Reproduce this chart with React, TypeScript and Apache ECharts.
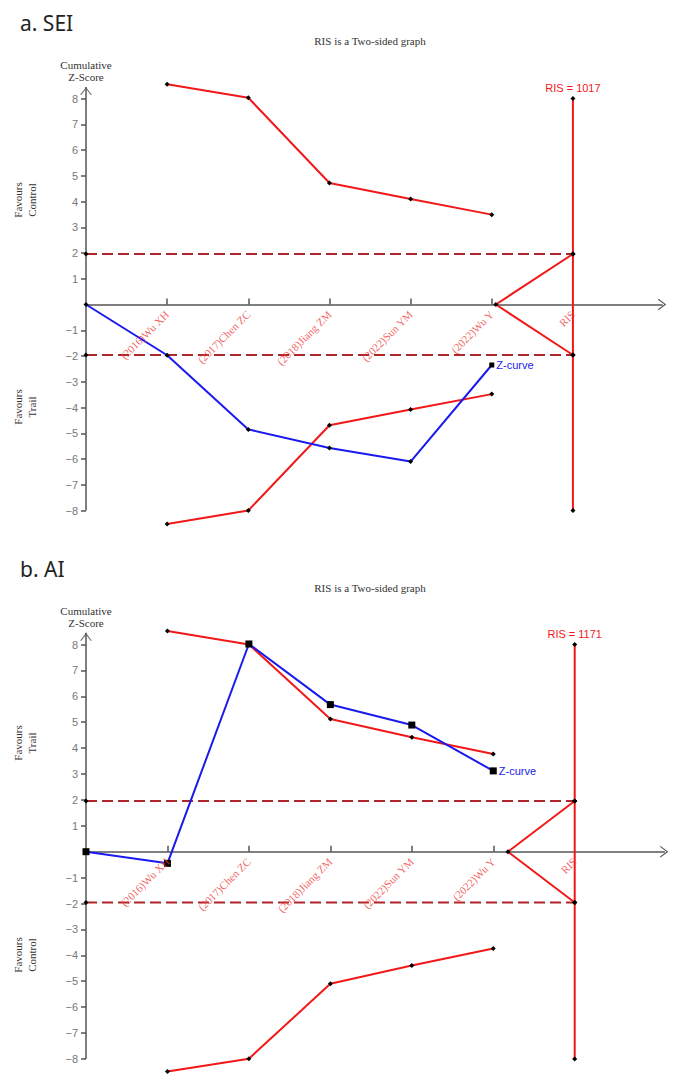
import React, { useEffect, useRef } from "react";
import * as echarts from "echarts";

// ---------- data ----------
const studies = ["(2016)Wu XH", "(2017)Chen ZC", "(2018)Jiang ZM", "(2022)Sun YM", "(2022)Wu Y"];
const risCategory = "RIS";
const studyPositions = [1, 2, 3, 4, 5];
const risPosition = 6;
const conventionalBoundary = 1.96;
const risBoundaryTop = 8;
const risBoundaryBottom = -8;
const yTickValues = [-8, -7, -6, -5, -4, -3, -2, -1, 1, 2, 3, 4, 5, 6, 7, 8];

// a. SEI
const seiUpper = [8.55, 8.03, 4.72, 4.1, 3.49];
const seiLower = [-8.52, -8.0, -4.69, -4.08, -3.48];
const seiZ = [0, -1.97, -4.85, -5.57, -6.1, -2.35];
const seiRIS = 1017;
const seiWedgeStart = 5.05;

// b. AI
const aiUpper = [8.52, 8.0, 5.12, 4.42, 3.77];
const aiLower = [-8.49, -7.99, -5.1, -4.39, -3.74];
const aiZ = [0, -0.45, 8.02, 5.68, 4.89, 3.12];
const aiRIS = 1171;
const aiWedgeStart = 5.18;

// ---------- styles ----------
const SERIF = '"Liberation Serif", "Times New Roman", serif';
const SANS = '"Liberation Sans", Arial, sans-serif';
const RED = "#f21818";
const BLUE = "#1a1aee";
const DASH_RED = "#b0262a";
const AXIS = "#555555";
const CHEVRON = "path://M0,8 L6,0 L12,8 L10.6,8 L6,1.8 L1.4,8 Z";

type Panel = {
  upper: number[];
  lower: number[];
  z: number[];
  ris: number;
  wedge: number;
  zSymbol: string;
  zSymbolSize: number;
  zEndSymbol: string;
  zEndSize: number;
};

function panelSeries(i: number, p: Panel): any[] {
  const common = { xAxisIndex: i, yAxisIndex: i, silent: true };
  const dot = { symbol: "diamond", symbolSize: 5, itemStyle: { color: "#000" } };
  const catLabels = [...studies, risCategory];
  const catPositions = [...studyPositions, risPosition];
  return [
    {
      ...common,
      ...dot,
      type: "line",
      z: 2,
      data: [[0, conventionalBoundary], [risPosition, conventionalBoundary]],
      lineStyle: { color: DASH_RED, width: 2, type: [11, 5] },
    },
    {
      ...common,
      ...dot,
      type: "line",
      z: 2,
      data: [[0, -conventionalBoundary], [risPosition, -conventionalBoundary]],
      lineStyle: { color: DASH_RED, width: 2, type: [11, 5] },
    },
    {
      ...common,
      ...dot,
      type: "line",
      z: 3,
      data: studyPositions.map((x, k) => [x, p.upper[k]]),
      lineStyle: { color: RED, width: 2 },
    },
    {
      ...common,
      ...dot,
      type: "line",
      z: 3,
      data: studyPositions.map((x, k) => [x, p.lower[k]]),
      lineStyle: { color: RED, width: 2 },
    },
    {
      ...common,
      ...dot,
      type: "line",
      z: 3,
      data: [
        {
          value: [risPosition, risBoundaryTop],
          label: {
            show: true,
            position: "top",
            distance: 3,
            formatter: `RIS = ${p.ris}`,
            color: RED,
            fontSize: 11,
            fontFamily: SANS,
          },
        },
        [risPosition, conventionalBoundary],
        [risPosition, -conventionalBoundary],
        [risPosition, risBoundaryBottom],
      ],
      lineStyle: { color: RED, width: 2 },
    },
    {
      ...common,
      ...dot,
      type: "line",
      z: 3,
      data: [[risPosition, conventionalBoundary], [p.wedge, 0], [risPosition, -conventionalBoundary]],
      lineStyle: { color: RED, width: 2 },
    },
    {
      ...common,
      type: "line",
      z: 4,
      symbol: p.zSymbol,
      symbolSize: p.zSymbolSize,
      itemStyle: { color: "#000" },
      lineStyle: { color: BLUE, width: 2 },
      data: p.z.map((v, k) =>
        k === p.z.length - 1
          ? {
              value: [k, v],
              symbol: p.zEndSymbol,
              symbolSize: p.zEndSize,
              label: {
                show: true,
                position: "right",
                distance: 2,
                formatter: "Z-curve",
                color: BLUE,
                fontSize: 11,
                fontFamily: SANS,
              },
            }
          : [k, v]
      ),
    },
    // y axis line with open arrow head
    {
      ...common,
      type: "line",
      z: 1,
      symbol: "none",
      data: [[0, risBoundaryBottom], [0, 8.45]],
      lineStyle: { color: AXIS, width: 1.5 },
    },
    {
      ...common,
      type: "scatter",
      z: 1,
      symbol: CHEVRON,
      symbolSize: [12, 8],
      symbolOffset: [0, 4],
      itemStyle: { color: AXIS },
      data: [[0, 8.45]],
    },
    // category labels sitting on the zero axis
    {
      ...common,
      type: "scatter",
      z: 5,
      symbol: "circle",
      symbolSize: 0,
      itemStyle: { color: "transparent" },
      data: catPositions.map((x, k) => ({ value: [x, 0], name: catLabels[k] })),
      label: {
        show: true,
        position: "bottom",
        distance: 8,
        rotate: 45,
        align: "right",
        verticalAlign: "middle",
        formatter: (d: any) => d.name,
        color: "#ee3a3a",
        fontSize: 11,
        fontFamily: SERIF,
      },
    },
  ];
}

function xAxisFor(i: number): any {
  return {
    type: "value",
    gridIndex: i,
    min: 0,
    max: 7.1,
    splitLine: { show: false },
    axisLine: {
      show: true,
      onZero: true,
      symbol: ["none", CHEVRON],
      symbolSize: [12, 8],
      lineStyle: { color: AXIS, width: 1.5 },
    },
    axisTick: {
      show: true,
      inside: true,
      length: 6,
      customValues: studyPositions,
      lineStyle: { color: AXIS, width: 1.5 },
    },
    axisLabel: { show: false },
  };
}

function yAxisFor(i: number): any {
  return {
    type: "value",
    gridIndex: i,
    min: -9,
    max: 9,
    splitLine: { show: false },
    axisLine: { show: false },
    axisTick: {
      show: true,
      length: 5,
      customValues: yTickValues,
      lineStyle: { color: AXIS, width: 1.5 },
    },
    axisLabel: {
      show: true,
      customValues: yTickValues,
      margin: 8,
      color: "#777",
      fontSize: 11,
      fontFamily: SANS,
      formatter: (v: number) => (v < 0 ? "\u2212" + Math.abs(v) : String(v)),
    },
  };
}

function textEl(text: string, x: number, y: number, extra: any = {}): any {
  return {
    type: "text",
    x,
    y,
    silent: true,
    style: {
      text,
      fill: "#333",
      font: `11px ${SERIF}`,
      align: "center",
      verticalAlign: "middle",
      lineHeight: 12,
      ...extra,
    },
  };
}

function sideLabel(text: string, x: number, y: number): any {
  return {
    type: "text",
    x,
    y,
    rotation: Math.PI / 2,
    silent: true,
    style: {
      text,
      fill: "#333",
      font: `11px ${SERIF}`,
      align: "center",
      verticalAlign: "middle",
      lineHeight: 14,
    },
  };
}

export default function App() {
  const ref = useRef<HTMLDivElement>(null);

  useEffect(() => {
    if (!ref.current) return;
    const chart = echarts.init(ref.current, undefined, { renderer: "svg" });

    const sei: Panel = {
      upper: seiUpper,
      lower: seiLower,
      z: seiZ,
      ris: seiRIS,
      wedge: seiWedgeStart,
      zSymbol: "diamond",
      zSymbolSize: 5,
      zEndSymbol: "rect",
      zEndSize: 5,
    };
    const ai: Panel = {
      upper: aiUpper,
      lower: aiLower,
      z: aiZ,
      ris: aiRIS,
      wedge: aiWedgeStart,
      zSymbol: "rect",
      zSymbolSize: 7,
      zEndSymbol: "rect",
      zEndSize: 7,
    };

    const option: any = {
      animation: false,
      backgroundColor: "#ffffff",
      grid: [
        { left: 86, top: 72.75, width: 576.2, height: 463.5 },
        { left: 86, top: 618.6, width: 578.3, height: 466.2 },
      ],
      xAxis: [xAxisFor(0), xAxisFor(1)],
      yAxis: [yAxisFor(0), yAxisFor(1)],
      series: [...panelSeries(0, sei), ...panelSeries(1, ai)],
      graphic: [
        textEl("a. SEI", 20, 23, { font: `21px "Noto Sans", sans-serif`, fill: "#222", align: "left" }),
        textEl("RIS is a Two-sided graph", 370, 41),
        textEl("Cumulative\nZ-Score", 86, 71),
        sideLabel("Favours\nControl", 25, 200),
        sideLabel("Favours\nTrail", 25, 407),

        textEl("b. AI", 20, 569, { font: `21px "Noto Sans", sans-serif`, fill: "#222", align: "left" }),
        textEl("RIS is a Two-sided graph", 370, 588),
        textEl("Cumulative\nZ-Score", 86, 617),
        sideLabel("Favours\nTrail", 25, 743),
        sideLabel("Favours\nControl", 25, 955),
      ],
    };

    chart.setOption(option);
    return () => chart.dispose();
  }, []);

  return (
    <div
      ref={ref}
      style={{ position: "absolute", left: 0, top: 0, width: 685, height: 1091, background: "#fff" }}
    />
  );
}
